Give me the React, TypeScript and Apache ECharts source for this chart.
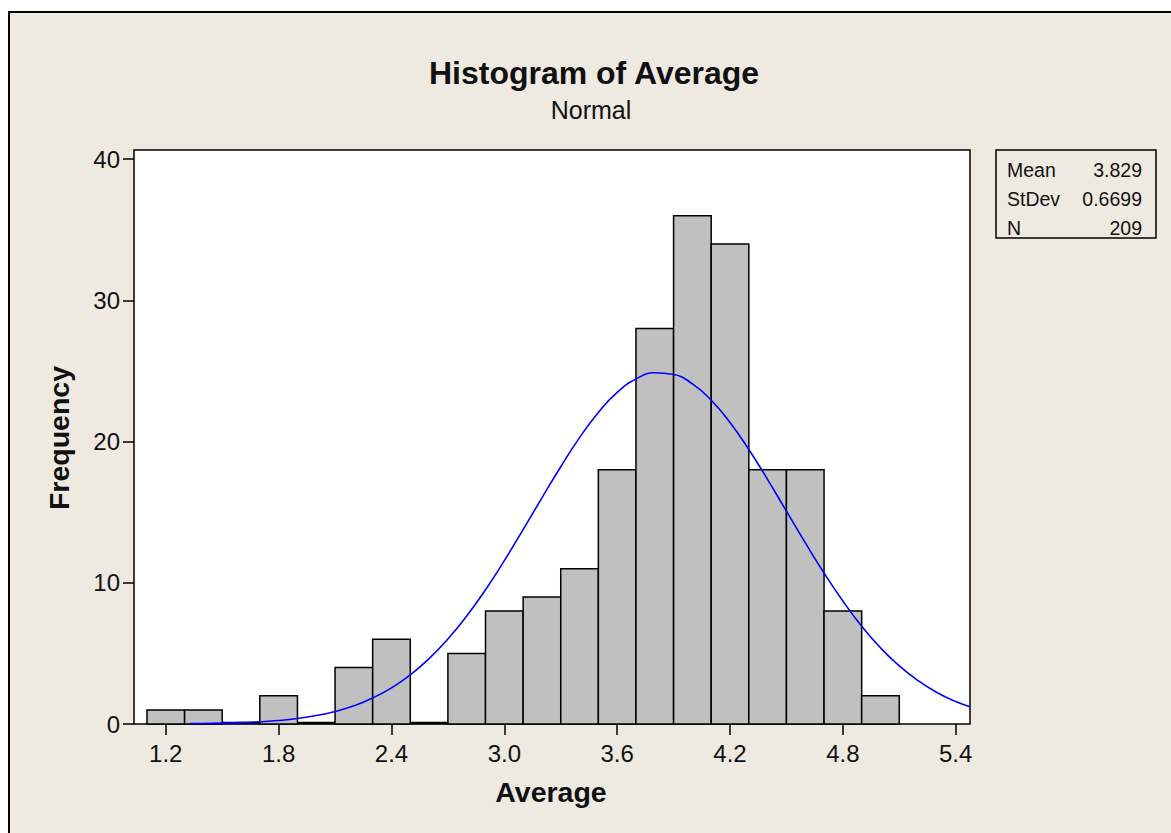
import React, { useEffect, useRef } from "react";
import * as echarts from "echarts";

// Histogram bins (centers) and frequencies
const binCenters = [1.2, 1.4, 1.6, 1.8, 2.0, 2.2, 2.4, 2.6, 2.8, 3.0, 3.2, 3.4, 3.6, 3.8, 4.0, 4.2, 4.4, 4.6, 4.8, 5.0];
const counts = [1, 1, 0, 2, 0, 4, 6, 0, 5, 8, 9, 11, 18, 28, 36, 34, 18, 18, 8, 2];
const binWidth = 0.2;

// Fitted normal curve
const curveX = [1.33, 1.4, 1.5, 1.6, 1.7, 1.8, 1.9, 2.0, 2.1, 2.2, 2.3, 2.4, 2.5, 2.6, 2.7, 2.8, 2.9, 3.0, 3.1, 3.2, 3.3, 3.4, 3.5, 3.6, 3.7, 3.8, 3.9, 4.0, 4.1, 4.2, 4.3, 4.4, 4.5, 4.6, 4.7, 4.8, 4.9, 5.0, 5.1, 5.2, 5.3, 5.4, 5.476];
const curveY = [0.024, 0.035, 0.059, 0.098, 0.16, 0.25, 0.39, 0.6, 0.89, 1.29, 1.84, 2.56, 3.48, 4.63, 6.02, 7.65, 9.51, 11.57, 13.77, 16.02, 18.22, 20.28, 22.06, 23.48, 24.43, 24.87, 24.75, 24.09, 22.93, 21.35, 19.44, 17.31, 15.07, 12.84, 10.69, 8.71, 6.93, 5.4, 4.11, 3.07, 2.23, 1.59, 1.22];

// Tick labels
const xTicks = [1.2, 1.8, 2.4, 3.0, 3.6, 4.2, 4.8, 5.4];
const yTicks = [0, 10, 20, 30, 40];

// Statistics legend
const statLabels = ["Mean", "StDev", "N"];
const statValues = ["3.829", "0.6699", "209"];

const FONT = '"Liberation Sans", Arial, sans-serif';

export default function App() {
  const ref = useRef<HTMLDivElement>(null);

  useEffect(() => {
    if (!ref.current) return;
    const chart = echarts.init(ref.current, null, { renderer: "svg" });

    const statTexts: any[] = [];
    statLabels.forEach((l, i) => {
      statTexts.push({
        type: "text",
        x: 1007,
        y: 170 + i * 29,
        style: { text: l, fontSize: 19.5, fontFamily: FONT, fill: "#111", textAlign: "left", textVerticalAlign: "middle" },
      });
      statTexts.push({
        type: "text",
        x: 1142,
        y: 170 + i * 29,
        style: { text: statValues[i], fontSize: 19.5, fontFamily: FONT, fill: "#111", textAlign: "right", textVerticalAlign: "middle" },
      });
    });

    chart.setOption({
      animation: false,
      backgroundColor: "transparent",
      grid: {
        left: 134,
        top: 150,
        width: 836,
        height: 574,
        show: true,
        backgroundColor: "#fff",
        borderColor: "#000",
        borderWidth: 1.5,
        containLabel: false,
      },
      xAxis: {
        type: "value",
        min: 1.031,
        max: 5.476,
        splitLine: { show: false },
        axisLine: { show: false },
        axisTick: {
          show: true,
          length: 11,
          customValues: xTicks,
          lineStyle: { color: "#000", width: 1.5 },
        },
        axisLabel: {
          customValues: xTicks,
          fontSize: 24,
          fontFamily: FONT,
          color: "#111",
          margin: 17,
          formatter: (v: number) => v.toFixed(1),
        },
      },
      yAxis: {
        type: "value",
        min: 0,
        max: 40.65,
        splitLine: { show: false },
        axisLine: { show: false },
        axisTick: {
          show: true,
          length: 11,
          customValues: yTicks,
          lineStyle: { color: "#000", width: 1.5 },
        },
        axisLabel: {
          customValues: yTicks,
          fontSize: 24,
          fontFamily: FONT,
          color: "#111",
          margin: 14,
        },
      },
      series: [
        {
          type: "custom",
          z: 2,
          encode: { x: 0, y: 1 },
          data: binCenters.map((c, i) => [c, counts[i]]),
          renderItem: (params: any, api: any) => {
            const c = api.value(0);
            const n = api.value(1);
            const p0 = api.coord([c - binWidth / 2, n]);
            const p1 = api.coord([c + binWidth / 2, 0]);
            if (n === 0) {
              return {
                type: "line",
                shape: { x1: p0[0], y1: p1[1] - 1, x2: p1[0], y2: p1[1] - 1 },
                style: { stroke: "#000", lineWidth: 2.5 },
              };
            }
            return {
              type: "rect",
              shape: { x: p0[0], y: p0[1], width: p1[0] - p0[0], height: p1[1] - p0[1] },
              style: { fill: "#C0C0C0", stroke: "#000", lineWidth: 1.5 },
            };
          },
        },
        {
          type: "line",
          z: 3,
          data: curveX.map((x, i) => [x, curveY[i]]),
          showSymbol: false,
          symbol: "none",
          smooth: true,
          lineStyle: { color: "#0000FF", width: 1.6 },
        },
      ],
      graphic: [
        {
          type: "text",
          x: 594,
          y: 73,
          style: { text: "Histogram of Average", fontSize: 32, fontWeight: "bold", fontFamily: FONT, fill: "#111", textAlign: "center", textVerticalAlign: "middle" },
        },
        {
          type: "text",
          x: 591,
          y: 110,
          style: { text: "Normal", fontSize: 25, fontFamily: FONT, fill: "#111", textAlign: "center", textVerticalAlign: "middle" },
        },
        {
          type: "text",
          x: 551,
          y: 792,
          style: { text: "Average", fontSize: 28.5, fontWeight: "bold", fontFamily: FONT, fill: "#111", textAlign: "center", textVerticalAlign: "middle" },
        },
        {
          type: "text",
          x: 59,
          y: 438,
          rotation: Math.PI / 2,
          style: { text: "Frequency", fontSize: 28.5, fontWeight: "bold", fontFamily: FONT, fill: "#111", textAlign: "center", textVerticalAlign: "middle" },
        },
        {
          type: "rect",
          shape: { x: 996, y: 150, width: 160, height: 88 },
          style: { fill: "transparent", stroke: "#000", lineWidth: 1.5 },
        },
        ...statTexts,
      ],
    });

    return () => chart.dispose();
  }, []);

  return (
    <div style={{ position: "fixed", left: 0, top: 0, width: 1171, height: 833, background: "#fff", overflow: "hidden" }}>
      <div
        style={{
          position: "absolute",
          left: 8,
          top: 11,
          width: 1400,
          height: 1000,
          borderLeft: "2px solid #000",
          borderTop: "2px solid #000",
          background: "#EEEAE1",
        }}
      />
      <div ref={ref} style={{ position: "absolute", left: 0, top: 0, width: 1171, height: 833 }} />
    </div>
  );
}
